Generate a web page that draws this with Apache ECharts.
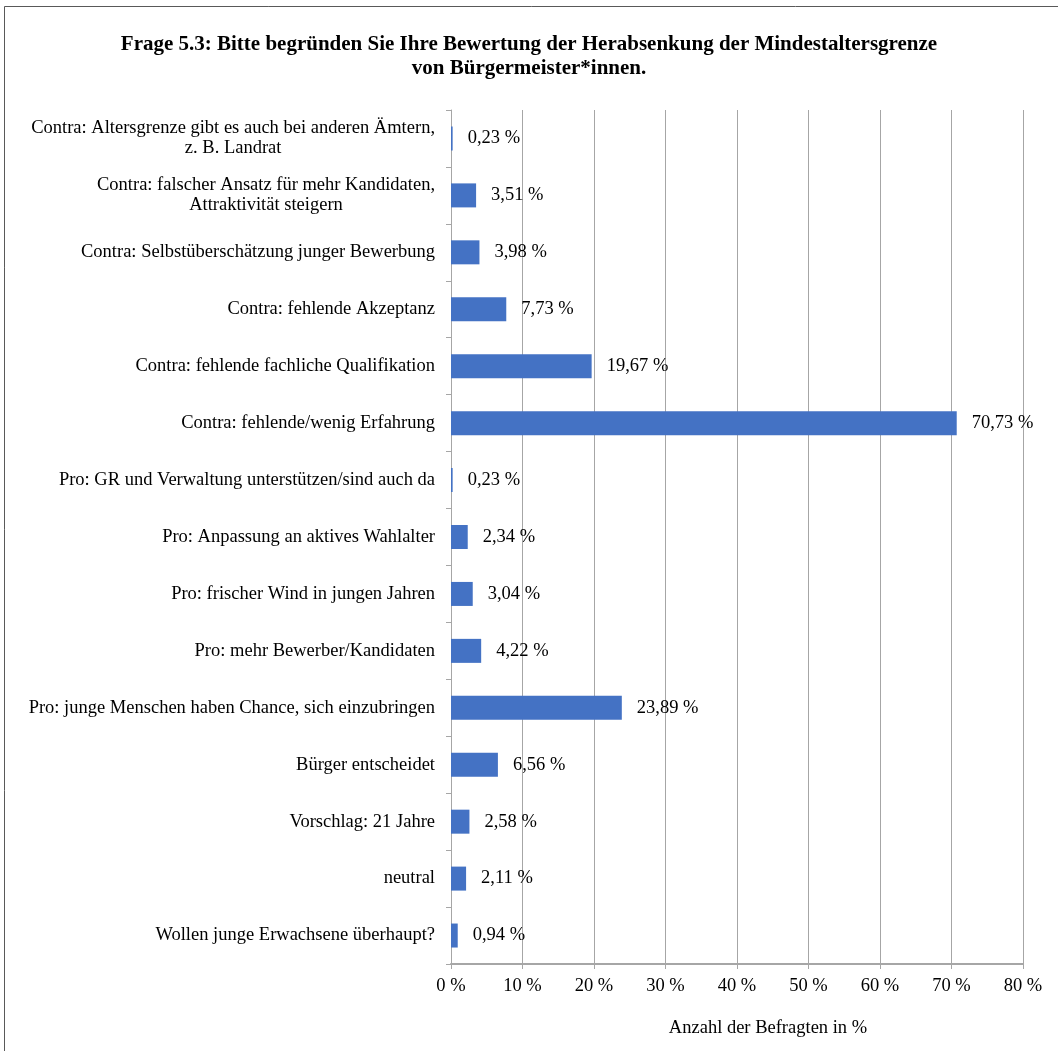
<!DOCTYPE html>
<html>
<head>
<meta charset="utf-8">
<script src="https://cdn.jsdelivr.net/npm/echarts@6/dist/echarts.min.js"></script>
<style>
  html, body { margin: 0; padding: 0; background: #fff; }
  #chart { width: 1058px; height: 1051px; }
</style>
</head>
<body>
<div id="chart"></div>
<script>
// Kategorien (von oben nach unten)
var categories = [
	'Contra: Altersgrenze gibt es auch bei anderen Ämtern,\nz. B. Landrat',
	'Contra: falscher Ansatz für mehr Kandidaten,\nAttraktivität steigern',
	'Contra: Selbstüberschätzung junger Bewerbung',
	'Contra: fehlende Akzeptanz',
	'Contra: fehlende fachliche Qualifikation',
	'Contra: fehlende/wenig Erfahrung',
	'Pro: GR und Verwaltung unterstützen/sind auch da',
	'Pro: Anpassung an aktives Wahlalter',
	'Pro: frischer Wind in jungen Jahren',
	'Pro: mehr Bewerber/Kandidaten',
	'Pro: junge Menschen haben Chance, sich einzubringen',
	'Bürger entscheidet',
	'Vorschlag: 21 Jahre',
	'neutral',
	'Wollen junge Erwachsene überhaupt?'
];
// Anteile in %
var values = [0.23, 3.51, 3.98, 7.73, 19.67, 70.73, 0.23, 2.34, 3.04, 4.22, 23.89, 6.56, 2.58, 2.11, 0.94];

var titleText = 'Frage 5.3: Bitte begründen Sie Ihre Bewertung der Herabsenkung der Mindestaltersgrenze\nvon Bürgermeister*innen.';
var xAxisName = 'Anzahl der Befragten in %';

var font = '"Liberation Serif", "Times New Roman", serif';
var fs = 18.5;

var myChart = echarts.init(document.getElementById('chart'));

var option = {
	backgroundColor: '#fff',
	textStyle: { fontFamily: font },
	title: {
		text: titleText,
		left: 'center',
		top: 28,
		textStyle: { fontFamily: font, fontSize: 21, fontWeight: 'bold', color: '#000', lineHeight: 24 }
	},
	graphic: [{
		type: 'rect',
		shape: { x: 4.5, y: 6.5, width: 1070, height: 1070 },
		style: { fill: 'none', stroke: '#595959', lineWidth: 1 }
	}],
	grid: { left: 451, right: 35, top: 110, bottom: 87 },
	xAxis: {
		type: 'value',
		min: 0,
		max: 80,
		interval: 10,
		name: xAxisName,
		nameLocation: 'middle',
		nameGap: 55,
		nameTextStyle: { fontFamily: font, fontSize: fs, color: '#000', padding: [0, 0, 0, 62] },
		axisLine: { show: true, lineStyle: { color: '#a6a6a6', width: 2 } },
		axisTick: { show: true, length: 5, lineStyle: { color: '#a6a6a6' } },
		axisLabel: { fontFamily: font, fontSize: fs, color: '#000', margin: 13,
			formatter: function (v) { return v + ' %'; } },
		splitLine: { show: true, lineStyle: { color: '#a6a6a6', width: 1 } }
	},
	yAxis: {
		type: 'category',
		data: categories,
		inverse: true,
		axisLine: { show: true, lineStyle: { color: '#a6a6a6', width: 1 } },
		axisTick: { show: true, length: 5, inside: false, lineStyle: { color: '#a6a6a6' } },
		axisLabel: {
			fontFamily: font, fontSize: fs, color: '#000', margin: 16, align: 'right', lineHeight: 20,
			// mehrzeilige Beschriftungen zentriert untereinander
			formatter: function (v) {
				return v.split('\n').map(function (l) { return '{c|' + l + '}'; }).join('\n');
			},
			rich: {
				c: { fontFamily: font, fontSize: fs, color: '#000', lineHeight: 20, align: 'center' }
			}
		}
	},
	series: [{
		type: 'bar',
		data: values,
		barWidth: 24,
		itemStyle: { color: '#4472c4' },
		label: {
			show: true,
			position: 'right',
			distance: 15,
			fontFamily: font,
			fontSize: fs,
			color: '#000',
			formatter: function (p) { return p.value.toFixed(2).replace('.', ',') + ' %'; }
		}
	}]
};

myChart.setOption(option);
</script>
</body>
</html>
